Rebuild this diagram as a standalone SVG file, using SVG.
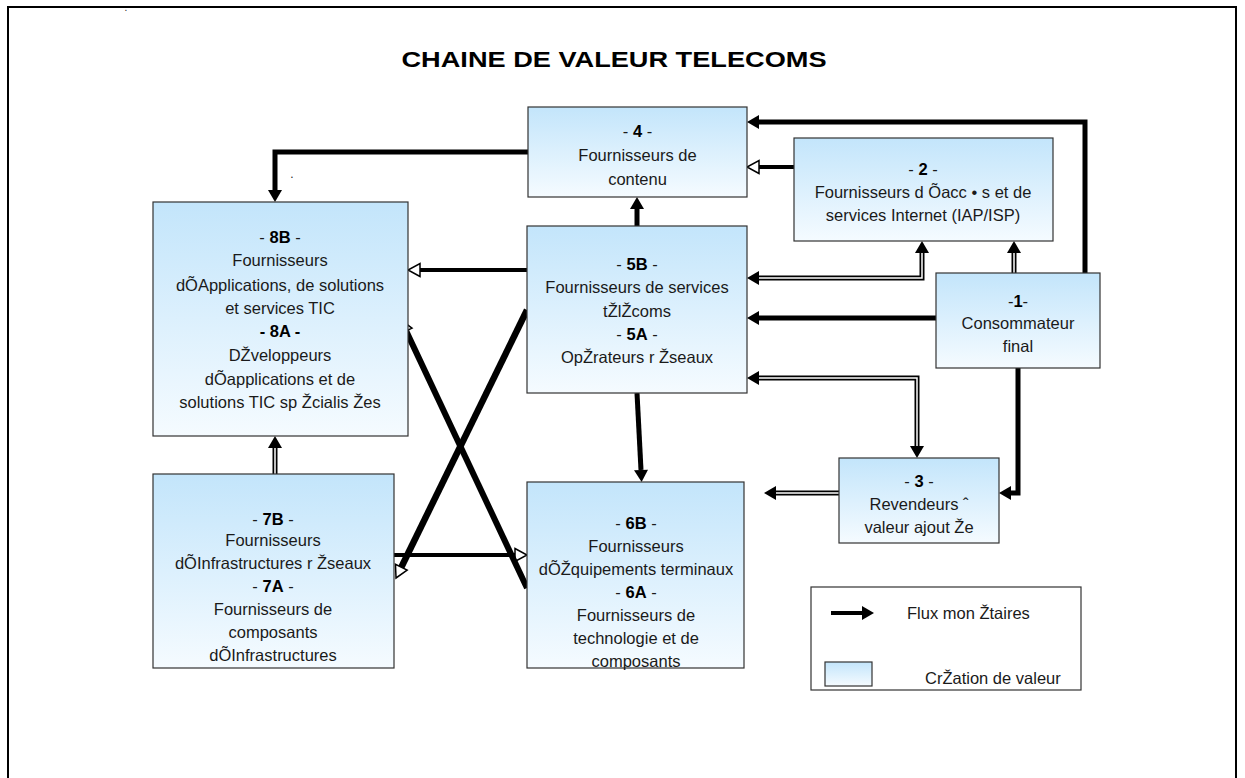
<svg xmlns="http://www.w3.org/2000/svg" width="1245" height="778" viewBox="0 0 1245 778">
<defs>
<linearGradient id="g" x1="0" y1="0" x2="0" y2="1">
<stop offset="0" stop-color="#c3e5fb"/>
<stop offset="1" stop-color="#f5fbff"/>
</linearGradient>
<marker id="af" markerUnits="userSpaceOnUse" markerWidth="14" markerHeight="14" refX="0" refY="7" orient="auto-start-reverse" overflow="visible">
<path d="M0,0 L12,7 L0,14 Z" fill="#000"/>
</marker>
<marker id="ao" markerUnits="userSpaceOnUse" markerWidth="14" markerHeight="14" refX="0" refY="7" orient="auto" overflow="visible">
<path d="M0,0.5 L12,7 L0,13.5 Z" fill="#fff" stroke="#000" stroke-width="1.5"/>
</marker>
</defs>
<style>
.box{fill:url(#g);stroke:#333;stroke-width:1.2}
text{font-family:"Liberation Sans",Arial,sans-serif;font-size:16.5px;fill:#1a1a1a;text-anchor:middle}
.b{font-weight:bold;fill:#000}
.thick{fill:none;stroke:#000;stroke-width:5}
.mid{fill:none;stroke:#000;stroke-width:4}
.dbl{fill:none;stroke:#000;stroke-width:5}
.core{fill:none;stroke:#fff;stroke-width:1.5}
.x{fill:none;stroke:#000;stroke-width:6.5}
</style>
<rect x="8" y="7" width="1228" height="790" fill="#fff" stroke="#000" stroke-width="2"/>
<text x="126" y="11" style="font-size:10px">.</text>
<text x="292" y="178" style="font-size:12px">.</text>
<text class="b" x="614" y="67" style="font-size:22px" textLength="425" lengthAdjust="spacingAndGlyphs">CHAINE DE VALEUR TELECOMS</text>

<g id="connectors">
<path class="thick" d="M1085,273 V122 H759" marker-end="url(#af)"/>
<path class="mid" d="M794,167 H759" marker-end="url(#ao)"/>
<path class="thick" d="M528,152 H275 V190" marker-end="url(#af)"/>
<path class="thick" d="M637,226 V209" marker-end="url(#af)"/>
<path class="mid" d="M527,270 H420" marker-end="url(#ao)"/>
<path class="dbl" d="M759,278 H922 V253" marker-start="url(#af)" marker-end="url(#af)"/>
<path class="core" d="M759,278 H922 V253"/>
<path class="dbl" d="M1014,273 V253" marker-end="url(#af)"/>
<path class="core" d="M1014,273 V253"/>
<path class="thick" d="M936,318 H759" marker-end="url(#af)"/>
<path class="dbl" d="M759,378 H917 V446" marker-start="url(#af)" marker-end="url(#af)"/>
<path class="core" d="M759,378 H917 V446"/>
<path class="thick" d="M1018,368 V493 H1011" marker-end="url(#af)"/>
<path class="dbl" d="M839,493 H776" marker-end="url(#af)"/>
<path class="core" d="M839,493 H776"/>
<path class="thick" d="M637,393 L641,470" marker-end="url(#af)"/>
<path class="dbl" d="M275,474 V448" marker-end="url(#af)"/>
<path class="core" d="M275,474 V448"/>
<path class="mid" d="M394,555 H515" marker-end="url(#ao)"/>
<path class="x" d="M527,310 L401.3,567.2" marker-end="url(#ao)"/>
<path class="x" style="stroke-width:6" d="M527,588 L406.1,330.9" marker-end="url(#ao)"/>
</g>

<g id="n4">
<rect class="box" x="528" y="107" width="219" height="90"/>
<text x="637.5" y="137">- <tspan class="b">4</tspan> -</text>
<text x="637.5" y="161">Fournisseurs de</text>
<text x="637.5" y="185">contenu</text>
</g>
<g id="n2">
<rect class="box" x="794" y="138" width="259" height="103"/>
<text x="923" y="175">- <tspan class="b">2</tspan> -</text>
<text x="923" y="198">Fournisseurs d Õacc • s et de</text>
<text x="923" y="221">services Internet (IAP/ISP)</text>
</g>
<g id="n8">
<rect class="box" x="153" y="202" width="255" height="234"/>
<text x="280" y="243">- <tspan class="b">8B</tspan> -</text>
<text x="280" y="266">Fournisseurs</text>
<text x="280" y="291">dÕApplications, de solutions</text>
<text x="280" y="314">et services TIC</text>
<text class="b" x="280" y="337">- 8A -</text>
<text x="280" y="361">DŽveloppeurs</text>
<text x="280" y="385">dÕapplications et de</text>
<text x="280" y="408">solutions TIC sp Žcialis Žes</text>
</g>
<g id="n5">
<rect class="box" x="527" y="226" width="220" height="167"/>
<text x="637" y="270">- <tspan class="b">5B</tspan> -</text>
<text x="637" y="293">Fournisseurs de services</text>
<text x="637" y="317">tŽlŽcoms</text>
<text x="637" y="340">- <tspan class="b">5A</tspan> -</text>
<text x="637" y="363">OpŽrateurs r Žseaux</text>
</g>
<g id="n1">
<rect class="box" x="936" y="273" width="164" height="95"/>
<text x="1018" y="307">-<tspan class="b">1</tspan>-</text>
<text x="1018" y="329">Consommateur</text>
<text x="1018" y="352">final</text>
</g>
<g id="n7">
<rect class="box" x="153" y="474" width="241" height="194"/>
<text x="273" y="525">- <tspan class="b">7B</tspan> -</text>
<text x="273" y="546">Fournisseurs</text>
<text x="273" y="569">dÕInfrastructures r  Žseaux</text>
<text x="273" y="592">- <tspan class="b">7A</tspan> -</text>
<text x="273" y="615">Fournisseurs de</text>
<text x="273" y="638">composants</text>
<text x="273" y="661">dÕInfrastructures</text>
</g>
<g id="n6">
<rect class="box" x="527" y="482" width="217" height="186"/>
<text x="636" y="529">- <tspan class="b">6B</tspan> -</text>
<text x="636" y="552">Fournisseurs</text>
<text x="636" y="575">dÕŽquipements terminaux</text>
<text x="636" y="598">- <tspan class="b">6A</tspan> -</text>
<text x="636" y="621">Fournisseurs de</text>
<text x="636" y="644">technologie et de</text>
<text x="636" y="667">composants</text>
</g>
<g id="n3">
<rect class="box" x="839" y="458" width="160" height="85"/>
<text x="919" y="487">- <tspan class="b">3</tspan> -</text>
<text x="919" y="510">Revendeurs ˆ</text>
<text x="919" y="533">valeur ajout Že</text>
</g>
<g id="legend">
<rect x="811" y="587" width="270" height="103" fill="#fff" stroke="#333" stroke-width="1.2"/>
<path class="mid" d="M831,613 H862" marker-end="url(#af)"/>
<text x="907" y="619" style="text-anchor:start">Flux mon Žtaires</text>
<rect class="box" x="825" y="662" width="47" height="24"/>
<text x="925" y="684" style="text-anchor:start">CrŽation de valeur</text>
</g>
</svg>
